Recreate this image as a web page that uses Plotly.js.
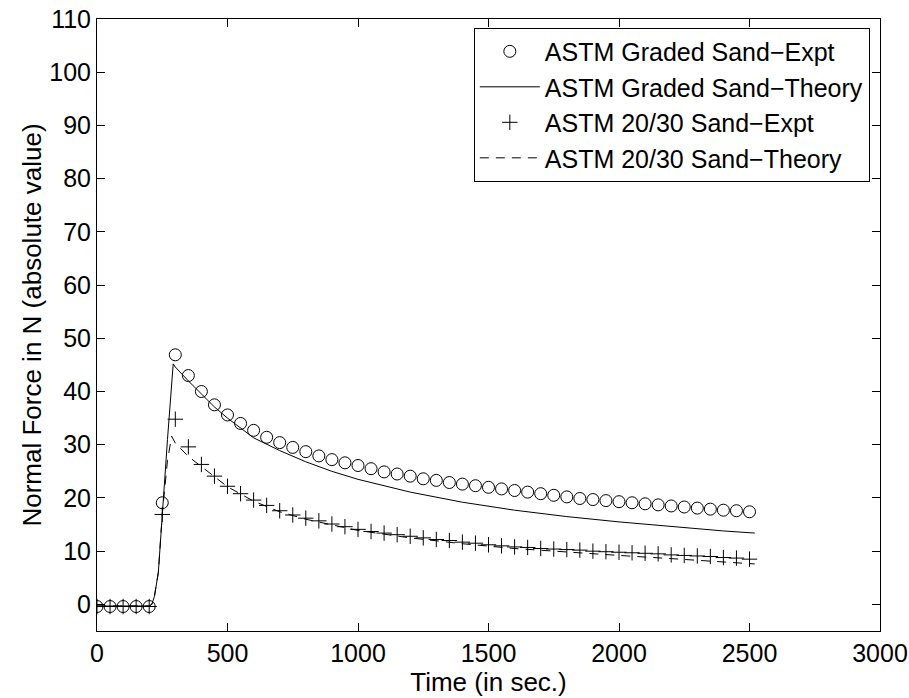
<!DOCTYPE html>
<html>
<head>
<meta charset="utf-8">
<script src="https://cdn.plot.ly/plotly-3.0.1.min.js"></script>
<style>html,body{margin:0;padding:0;background:#fff;}#chart{width:909px;height:698px;}</style>
</head>
<body>
<div id="chart"></div>
<script>
// Experimental sampling times (s)
const exptTime = [0,50,100,150,200,250,300,350,400,450,500,550,600,650,700,750,800,850,900,950,1000,
  1050,1100,1150,1200,1250,1300,1350,1400,1450,1500,1550,1600,1650,1700,1750,1800,1850,1900,1950,2000,
  2050,2100,2150,2200,2250,2300,2350,2400,2450,2500];
// ASTM Graded Sand - experiment
const gradedExpt = [-0.4,-0.4,-0.4,-0.4,-0.4,19.1,46.9,43.0,40.0,37.5,35.6,34.0,32.7,31.4,30.4,29.5,28.7,27.9,27.2,26.6,26.1,
  25.5,24.9,24.5,24.1,23.6,23.3,22.9,22.6,22.3,22.0,21.7,21.4,21.1,20.8,20.5,20.2,19.9,19.7,19.5,19.3,
  19.1,18.9,18.7,18.5,18.3,18.1,17.9,17.7,17.6,17.4];
// ASTM 20/30 Sand - experiment
const sand2030Expt = [-0.4,-0.4,-0.4,-0.4,-0.4,16.9,34.8,29.6,26.3,24.1,22.2,20.8,19.6,18.6,17.6,16.8,16.2,15.7,15.1,14.6,14.1,
  13.7,13.4,13.1,12.8,12.5,12.2,12.0,11.7,11.5,11.2,11.0,10.8,10.7,10.5,10.4,10.3,10.2,10.0,9.9,9.8,
  9.7,9.6,9.5,9.3,9.2,9.1,9.0,8.8,8.7,8.5];
// ASTM Graded Sand - theory
const gradedTheoryTime = [0,200,210,220,235,250,270,292,300,350,400,450,500,600,700,800,900,1000,1200,1400,1600,1800,2000,2200,2400,2520];
const gradedTheory = [-0.3,-0.3,0,1.5,6,17,31,45.2,44.6,42.0,39.5,37.1,35.0,31.3,28.9,26.8,25.0,23.5,21.1,19.2,17.7,16.5,15.5,14.6,13.8,13.4];
// ASTM 20/30 Sand - theory
const sand2030TheoryTime = [0,200,210,220,235,250,270,286,300,350,400,450,500,600,700,800,900,1000,1200,1400,1600,1800,2000,2200,2400,2520];
const sand2030Theory = [-0.3,-0.3,0,1.5,6,17,27,31.6,30.3,27.8,25.9,24.0,22.1,19.4,17.4,16.0,14.9,13.9,12.5,11.4,10.5,9.8,9.2,8.6,8.0,7.6];

const xTicks = [0,500,1000,1500,2000,2500,3000];
const yTicks = [0,10,20,30,40,50,60,70,80,90,100,110];

const FONT = 'Liberation Sans, Arial, Helvetica, sans-serif';
const INK = '#000000';

const traces = [
  {x: exptTime, y: gradedExpt, name: 'ASTM Graded Sand\u2212Expt', mode: 'markers', type: 'scatter',
   marker: {symbol: 'circle-open', size: 12, color: INK, line: {width: 1, color: INK}}},
  {x: gradedTheoryTime, y: gradedTheory, name: 'ASTM Graded Sand\u2212Theory', mode: 'lines', type: 'scatter',
   line: {color: INK, width: 1}},
  {x: exptTime, y: sand2030Expt, name: 'ASTM 20/30 Sand\u2212Expt', mode: 'markers', type: 'scatter',
   marker: {symbol: 'cross-thin-open', size: 11, color: INK, line: {width: 1, color: INK}}},
  {x: sand2030TheoryTime, y: sand2030Theory, name: 'ASTM 20/30 Sand\u2212Theory', mode: 'lines', type: 'scatter',
   line: {color: INK, width: 1, dash: '9px,7px'}}
];

const axisCommon = {
  showgrid: false, zeroline: false, showline: true, linecolor: INK, linewidth: 1,
  mirror: 'ticks', ticks: 'inside', ticklen: 8, tickwidth: 1, tickcolor: INK,
  tickfont: {family: FONT, size: 25, color: INK}
};

const layout = {
  width: 909, height: 698,
  margin: {l: 97, r: 29, t: 19, b: 67},
  paper_bgcolor: '#ffffff', plot_bgcolor: '#ffffff',
  font: {family: FONT, color: INK},
  xaxis: Object.assign({}, axisCommon, {
    range: [0, 3000], tickmode: 'array', tickvals: xTicks, ticktext: xTicks.map(String),
    title: {text: 'Time (in sec.)', font: {family: FONT, size: 26, color: INK}, standoff: 2}
  }),
  yaxis: Object.assign({}, axisCommon, {
    range: [-5, 110], tickmode: 'array', tickvals: yTicks, ticktext: yTicks.map(String),
    title: {text: 'Normal Force in N (absolute value)', font: {family: FONT, size: 26, color: INK}, standoff: 0}
  }),
  showlegend: true,
  legend: {
    x: 0.987, y: 0.986, xanchor: 'right', yanchor: 'top',
    bgcolor: '#ffffff', bordercolor: INK, borderwidth: 1,
    font: {family: FONT, size: 25, color: INK},
    itemwidth: 60, tracegroupgap: 0
  }
};

Plotly.newPlot('chart', traces, layout, {displayModeBar: false, staticPlot: true});
</script>
</body>
</html>
